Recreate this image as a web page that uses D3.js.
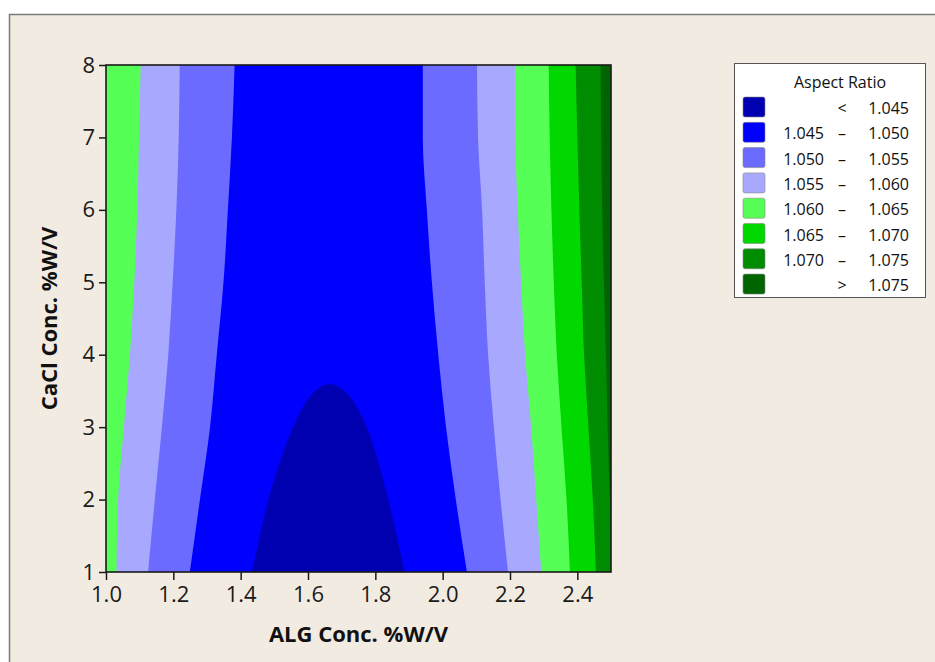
<!DOCTYPE html>
<html>
<meta charset="utf-8">
<style>
body { margin: 0; background: #fff; }
.tick text { font-family: "Open Sans", "Liberation Sans", sans-serif; font-size: 22px; fill: #1a1a1a; }
.tick line { stroke: #1a1a1a; stroke-width: 1.5; }
.axis-title { font-family: "Open Sans", "Liberation Sans", sans-serif; font-weight: bold; font-size: 22px; fill: #111; text-anchor: middle; }
.legend text { font-family: "Open Sans", "Liberation Sans", sans-serif; font-size: 16px; fill: #111; }
</style>
<body>
<script src="https://cdn.jsdelivr.net/npm/d3@7"></script>
<script>

// CaCl levels (y) where the contour boundaries were read
var yLevels = [1, 2, 3, 4, 5, 6, 7, 8];

// ALG position of each contour boundary at those levels
var left1060  = [1.031, 1.036, 1.053, 1.071, 1.084, 1.093, 1.098, 1.103];
var left1055  = [1.125, 1.145, 1.166, 1.185, 1.198, 1.209, 1.216, 1.219];
var left1050  = [1.249, 1.279, 1.309, 1.329, 1.349, 1.362, 1.374, 1.382];
var right1050 = [2.072, 2.039, 2.010, 1.987, 1.968, 1.953, 1.941, 1.941];
var right1055 = [2.194, 2.172, 2.152, 2.135, 2.125, 2.117, 2.105, 2.102];
var right1060 = [2.293, 2.278, 2.263, 2.245, 2.233, 2.223, 2.216, 2.215];
var right1065 = [2.378, 2.368, 2.353, 2.339, 2.330, 2.323, 2.318, 2.315];
var right1070 = [2.455, 2.446, 2.433, 2.420, 2.413, 2.406, 2.400, 2.395];
var right1075 = [2.506, 2.497, 2.490, 2.485, 2.479, 2.474, 2.471, 2.469];

// the < 1.045 cap at the bottom
var capX = [1.420, 1.433, 1.487, 1.556, 1.615, 1.665, 1.715, 1.774, 1.834, 1.888, 1.900];
var capY = [0.80, 1.00, 2.08, 3.00, 3.47, 3.594, 3.47, 3.00, 2.08, 1.00, 0.80];

var xTicks = [1.0, 1.2, 1.4, 1.6, 1.8, 2.0, 2.2, 2.4];
var yTicks = [1, 2, 3, 4, 5, 6, 7, 8];

var legendLow  = ["", "1.045", "1.050", "1.055", "1.060", "1.065", "1.070", ""];
var legendMid  = ["<", "\u2013", "\u2013", "\u2013", "\u2013", "\u2013", "\u2013", ">"];
var legendHigh = ["1.045", "1.050", "1.055", "1.060", "1.065", "1.070", "1.075", "1.075"];
var colors = ["#0000b0", "#0000ff", "#6b6bff", "#a8a8ff", "#55ff55", "#00d800", "#008c00", "#006400"];

var W = 935, H = 662;
var svg = d3.select("body").append("svg")
    .attr("width", W)
    .attr("height", H);

// window background
svg.append("rect").attr("x", 9).attr("y", 14).attr("width", W - 9).attr("height", H - 14)
    .attr("fill", "#f2ebe1");
svg.append("path").attr("d", "M9.5," + H + "V14.5H" + W)
    .attr("fill", "none").attr("stroke", "#7a7a7a").attr("stroke-width", 1.5);

var x = d3.scaleLinear().domain([1.0, 2.5]).range([106, 611]);
var y = d3.scaleLinear().domain([1, 8]).range([572, 65]);

svg.append("clipPath").attr("id", "plot-clip")
  .append("rect")
    .attr("x", x(1.0)).attr("y", y(8))
    .attr("width", x(2.5) - x(1.0)).attr("height", y(1) - y(8));

var plot = svg.append("g").attr("clip-path", "url(#plot-clip)");

plot.append("rect")
    .attr("x", x(1.0)).attr("y", y(8))
    .attr("width", x(2.5) - x(1.0)).attr("height", y(1) - y(8))
    .attr("fill", colors[7]);

function band(lo, hi, color) {
  var area = d3.area()
      .curve(d3.curveMonotoneY)
      .y(function(d) { return y(yLevels[d]); })
      .x0(function(d) { return lo ? x(lo[d]) : x(1.0) - 3; })
      .x1(function(d) { return x(hi[d]); });
  plot.append("path")
      .datum(d3.range(yLevels.length))
      .attr("d", area)
      .attr("fill", color);
}

band(null, right1075, colors[6]);
band(null, right1070, colors[5]);
band(null, right1065, colors[4]);
band(left1060, right1060, colors[3]);
band(left1055, right1055, colors[2]);
band(left1050, right1050, colors[1]);

var capLine = d3.line()
    .curve(d3.curveCatmullRom.alpha(0.5))
    .x(function(d) { return x(capX[d]); })
    .y(function(d) { return y(capY[d]); });
plot.append("path")
    .datum(d3.range(capX.length))
    .attr("d", function(d) { return capLine(d) + "Z"; })
    .attr("fill", colors[0]);

// frame
svg.append("rect")
    .attr("x", x(1.0)).attr("y", y(8))
    .attr("width", x(2.5) - x(1.0)).attr("height", y(1) - y(8))
    .attr("fill", "none").attr("stroke", "#1a1a1a").attr("stroke-width", 1.6);

var xAxis = svg.append("g")
    .attr("transform", "translate(0," + y(1) + ")")
    .call(d3.axisBottom(x).tickValues(xTicks).tickFormat(d3.format(".1f"))
      .tickSize(8).tickPadding(6));
xAxis.select(".domain").remove();

var yAxis = svg.append("g")
    .attr("transform", "translate(" + x(1.0) + ",0)")
    .call(d3.axisLeft(y).tickValues(yTicks).tickFormat(d3.format("d"))
      .tickSize(7).tickPadding(4));
yAxis.select(".domain").remove();

svg.append("text").attr("class", "axis-title")
    .attr("x", (x(1.0) + x(2.5)) / 2).attr("y", 642)
    .text("ALG Conc. %W/V");

svg.append("text").attr("class", "axis-title")
    .attr("transform", "translate(57," + (y(1) + y(8)) / 2 + ") rotate(-90)")
    .text("CaCl Conc. %W/V");

// legend
var legend = svg.append("g").attr("class", "legend");
legend.append("rect")
    .attr("x", 734.5).attr("y", 63.5).attr("width", 191).attr("height", 234)
    .attr("fill", "#fff").attr("stroke", "#555").attr("stroke-width", 1);
legend.append("text")
    .attr("x", 840).attr("y", 88)
    .attr("text-anchor", "middle")
    .text("Aspect Ratio");

var rows = legend.selectAll(".row")
    .data(colors)
    .enter()
    .append("g")
    .attr("class", "row")
    .attr("transform", function(d, i) { return "translate(0," + (97 + i * 25.3) + ")"; });

rows.append("rect")
    .attr("x", 743).attr("y", 0).attr("width", 22).attr("height", 20)
    .attr("rx", 2)
    .attr("fill", function(d) { return d; })
    .attr("stroke", "#888").attr("stroke-width", 0.6);
rows.append("text")
    .attr("x", 824).attr("y", 17).attr("text-anchor", "end")
    .text(function(d, i) { return legendLow[i]; });
rows.append("text")
    .attr("x", 842).attr("y", 17).attr("text-anchor", "middle")
    .text(function(d, i) { return legendMid[i]; });
rows.append("text")
    .attr("x", 909).attr("y", 17).attr("text-anchor", "end")
    .text(function(d, i) { return legendHigh[i]; });

</script>
</body>
</html>
